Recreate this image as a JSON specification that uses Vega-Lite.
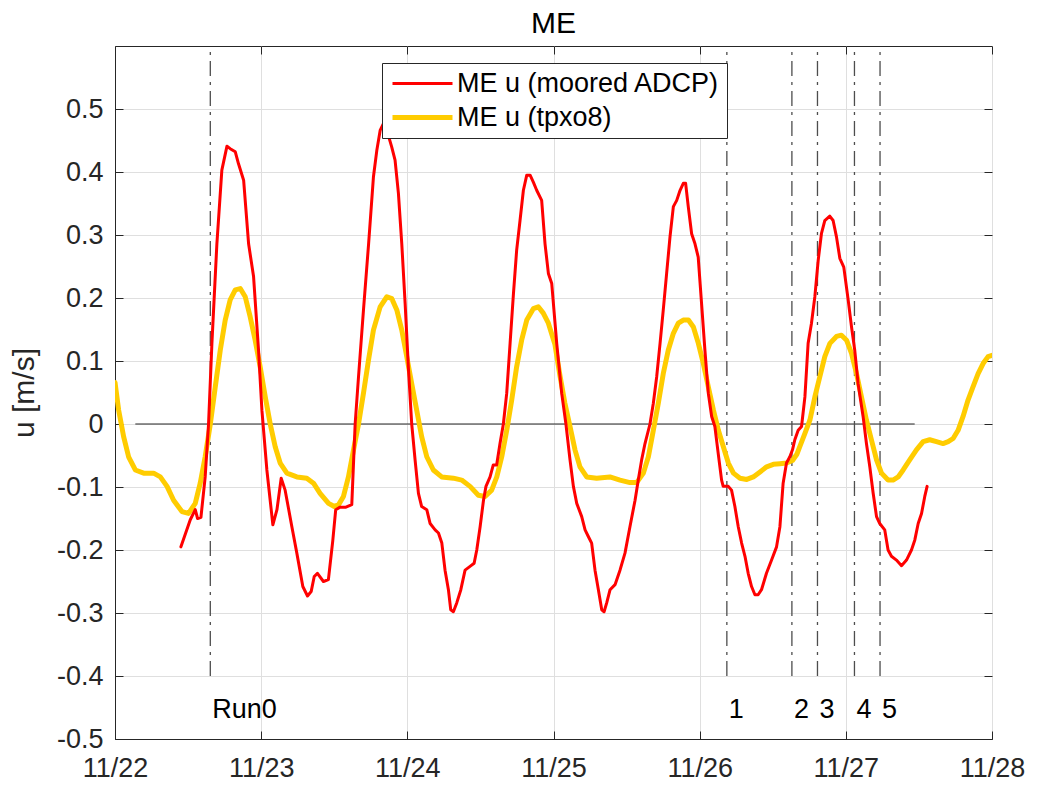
{
  "$schema": "https://vega.github.io/schema/vega-lite/v6.json",
  "width": 877,
  "height": 693,
  "autosize": {"type": "none"},
  "padding": {"left": 115, "top": 46, "right": 45, "bottom": 48},
  "background": "white",
  "title": {"text": "ME", "fontSize": 30, "font": "Liberation Sans", "fontWeight": "normal", "color": "#000000", "anchor": "middle", "baseline": "alphabetic", "offset": 13, "dy": 31},
  "config": {
    "view": {"stroke": "#262626", "strokeWidth": 1},
    "font": "Liberation Sans",
    "axis": {
      "domainColor": "#262626",
      "tickColor": "#262626",
      "labelColor": "#262626",
      "labelFont": "Liberation Sans",
      "labelFontSize": 27,
      "gridColor": "#dfdfdf",
      "gridWidth": 1,
      "tickSize": -8,
      "titleFont": "Liberation Sans",
      "titleFontSize": 30,
      "titleColor": "#262626",
      "titleFontWeight": "normal"
    },
    "legend": {
      "orient": "none",
      "legendX": 267,
      "legendY": 17,
      "strokeColor": "#262626",
      "fillColor": "white",
      "padding": 7,
      "labelFontSize": 27,
      "labelFont": "Liberation Sans",
      "labelColor": "#000000",
      "symbolType": "M-1,0H5",
      "symbolSize": 400,
      "labelOffset": 41,
      "rowPadding": 6,
      "labelLimit": 500
    }
  },
  "datasets": {
    "series": [
      {"day": 22.000, "u": 0.066, "series": "ME u (tpxo8)"},
      {"day": 22.025, "u": 0.022, "series": "ME u (tpxo8)"},
      {"day": 22.059, "u": -0.020, "series": "ME u (tpxo8)"},
      {"day": 22.093, "u": -0.052, "series": "ME u (tpxo8)"},
      {"day": 22.139, "u": -0.073, "series": "ME u (tpxo8)"},
      {"day": 22.196, "u": -0.078, "series": "ME u (tpxo8)"},
      {"day": 22.264, "u": -0.078, "series": "ME u (tpxo8)"},
      {"day": 22.310, "u": -0.084, "series": "ME u (tpxo8)"},
      {"day": 22.356, "u": -0.099, "series": "ME u (tpxo8)"},
      {"day": 22.401, "u": -0.121, "series": "ME u (tpxo8)"},
      {"day": 22.458, "u": -0.139, "series": "ME u (tpxo8)"},
      {"day": 22.503, "u": -0.142, "series": "ME u (tpxo8)"},
      {"day": 22.549, "u": -0.126, "series": "ME u (tpxo8)"},
      {"day": 22.583, "u": -0.094, "series": "ME u (tpxo8)"},
      {"day": 22.617, "u": -0.052, "series": "ME u (tpxo8)"},
      {"day": 22.652, "u": 0.000, "series": "ME u (tpxo8)"},
      {"day": 22.686, "u": 0.059, "series": "ME u (tpxo8)"},
      {"day": 22.720, "u": 0.117, "series": "ME u (tpxo8)"},
      {"day": 22.754, "u": 0.165, "series": "ME u (tpxo8)"},
      {"day": 22.788, "u": 0.197, "series": "ME u (tpxo8)"},
      {"day": 22.823, "u": 0.213, "series": "ME u (tpxo8)"},
      {"day": 22.857, "u": 0.215, "series": "ME u (tpxo8)"},
      {"day": 22.891, "u": 0.202, "series": "ME u (tpxo8)"},
      {"day": 22.925, "u": 0.170, "series": "ME u (tpxo8)"},
      {"day": 22.959, "u": 0.133, "series": "ME u (tpxo8)"},
      {"day": 22.993, "u": 0.091, "series": "ME u (tpxo8)"},
      {"day": 23.028, "u": 0.043, "series": "ME u (tpxo8)"},
      {"day": 23.062, "u": 0.000, "series": "ME u (tpxo8)"},
      {"day": 23.096, "u": -0.036, "series": "ME u (tpxo8)"},
      {"day": 23.130, "u": -0.062, "series": "ME u (tpxo8)"},
      {"day": 23.176, "u": -0.078, "series": "ME u (tpxo8)"},
      {"day": 23.244, "u": -0.084, "series": "ME u (tpxo8)"},
      {"day": 23.312, "u": -0.086, "series": "ME u (tpxo8)"},
      {"day": 23.358, "u": -0.094, "series": "ME u (tpxo8)"},
      {"day": 23.403, "u": -0.110, "series": "ME u (tpxo8)"},
      {"day": 23.461, "u": -0.126, "series": "ME u (tpxo8)"},
      {"day": 23.500, "u": -0.131, "series": "ME u (tpxo8)"},
      {"day": 23.530, "u": -0.128, "series": "ME u (tpxo8)"},
      {"day": 23.563, "u": -0.115, "series": "ME u (tpxo8)"},
      {"day": 23.597, "u": -0.084, "series": "ME u (tpxo8)"},
      {"day": 23.632, "u": -0.041, "series": "ME u (tpxo8)"},
      {"day": 23.666, "u": 0.000, "series": "ME u (tpxo8)"},
      {"day": 23.700, "u": 0.049, "series": "ME u (tpxo8)"},
      {"day": 23.734, "u": 0.101, "series": "ME u (tpxo8)"},
      {"day": 23.768, "u": 0.149, "series": "ME u (tpxo8)"},
      {"day": 23.814, "u": 0.186, "series": "ME u (tpxo8)"},
      {"day": 23.860, "u": 0.202, "series": "ME u (tpxo8)"},
      {"day": 23.894, "u": 0.199, "series": "ME u (tpxo8)"},
      {"day": 23.928, "u": 0.181, "series": "ME u (tpxo8)"},
      {"day": 23.962, "u": 0.149, "series": "ME u (tpxo8)"},
      {"day": 23.996, "u": 0.107, "series": "ME u (tpxo8)"},
      {"day": 24.030, "u": 0.064, "series": "ME u (tpxo8)"},
      {"day": 24.064, "u": 0.022, "series": "ME u (tpxo8)"},
      {"day": 24.098, "u": -0.020, "series": "ME u (tpxo8)"},
      {"day": 24.133, "u": -0.052, "series": "ME u (tpxo8)"},
      {"day": 24.178, "u": -0.073, "series": "ME u (tpxo8)"},
      {"day": 24.235, "u": -0.084, "series": "ME u (tpxo8)"},
      {"day": 24.315, "u": -0.086, "series": "ME u (tpxo8)"},
      {"day": 24.372, "u": -0.089, "series": "ME u (tpxo8)"},
      {"day": 24.429, "u": -0.099, "series": "ME u (tpxo8)"},
      {"day": 24.486, "u": -0.113, "series": "ME u (tpxo8)"},
      {"day": 24.532, "u": -0.115, "series": "ME u (tpxo8)"},
      {"day": 24.577, "u": -0.105, "series": "ME u (tpxo8)"},
      {"day": 24.612, "u": -0.084, "series": "ME u (tpxo8)"},
      {"day": 24.646, "u": -0.052, "series": "ME u (tpxo8)"},
      {"day": 24.680, "u": -0.010, "series": "ME u (tpxo8)"},
      {"day": 24.714, "u": 0.038, "series": "ME u (tpxo8)"},
      {"day": 24.748, "u": 0.091, "series": "ME u (tpxo8)"},
      {"day": 24.782, "u": 0.133, "series": "ME u (tpxo8)"},
      {"day": 24.817, "u": 0.165, "series": "ME u (tpxo8)"},
      {"day": 24.862, "u": 0.183, "series": "ME u (tpxo8)"},
      {"day": 24.896, "u": 0.186, "series": "ME u (tpxo8)"},
      {"day": 24.930, "u": 0.176, "series": "ME u (tpxo8)"},
      {"day": 24.965, "u": 0.160, "series": "ME u (tpxo8)"},
      {"day": 25.010, "u": 0.126, "series": "ME u (tpxo8)"},
      {"day": 25.044, "u": 0.077, "series": "ME u (tpxo8)"},
      {"day": 25.078, "u": 0.033, "series": "ME u (tpxo8)"},
      {"day": 25.113, "u": -0.004, "series": "ME u (tpxo8)"},
      {"day": 25.147, "u": -0.041, "series": "ME u (tpxo8)"},
      {"day": 25.181, "u": -0.068, "series": "ME u (tpxo8)"},
      {"day": 25.227, "u": -0.084, "series": "ME u (tpxo8)"},
      {"day": 25.295, "u": -0.086, "series": "ME u (tpxo8)"},
      {"day": 25.386, "u": -0.084, "series": "ME u (tpxo8)"},
      {"day": 25.455, "u": -0.089, "series": "ME u (tpxo8)"},
      {"day": 25.523, "u": -0.093, "series": "ME u (tpxo8)"},
      {"day": 25.569, "u": -0.093, "series": "ME u (tpxo8)"},
      {"day": 25.615, "u": -0.078, "series": "ME u (tpxo8)"},
      {"day": 25.649, "u": -0.052, "series": "ME u (tpxo8)"},
      {"day": 25.683, "u": -0.010, "series": "ME u (tpxo8)"},
      {"day": 25.717, "u": 0.033, "series": "ME u (tpxo8)"},
      {"day": 25.751, "u": 0.080, "series": "ME u (tpxo8)"},
      {"day": 25.785, "u": 0.117, "series": "ME u (tpxo8)"},
      {"day": 25.820, "u": 0.144, "series": "ME u (tpxo8)"},
      {"day": 25.854, "u": 0.160, "series": "ME u (tpxo8)"},
      {"day": 25.888, "u": 0.165, "series": "ME u (tpxo8)"},
      {"day": 25.923, "u": 0.165, "series": "ME u (tpxo8)"},
      {"day": 25.957, "u": 0.154, "series": "ME u (tpxo8)"},
      {"day": 25.991, "u": 0.128, "series": "ME u (tpxo8)"},
      {"day": 26.025, "u": 0.096, "series": "ME u (tpxo8)"},
      {"day": 26.059, "u": 0.059, "series": "ME u (tpxo8)"},
      {"day": 26.094, "u": 0.022, "series": "ME u (tpxo8)"},
      {"day": 26.128, "u": -0.010, "series": "ME u (tpxo8)"},
      {"day": 26.162, "u": -0.036, "series": "ME u (tpxo8)"},
      {"day": 26.196, "u": -0.062, "series": "ME u (tpxo8)"},
      {"day": 26.231, "u": -0.078, "series": "ME u (tpxo8)"},
      {"day": 26.276, "u": -0.086, "series": "ME u (tpxo8)"},
      {"day": 26.322, "u": -0.088, "series": "ME u (tpxo8)"},
      {"day": 26.367, "u": -0.084, "series": "ME u (tpxo8)"},
      {"day": 26.413, "u": -0.076, "series": "ME u (tpxo8)"},
      {"day": 26.458, "u": -0.068, "series": "ME u (tpxo8)"},
      {"day": 26.504, "u": -0.064, "series": "ME u (tpxo8)"},
      {"day": 26.549, "u": -0.063, "series": "ME u (tpxo8)"},
      {"day": 26.594, "u": -0.062, "series": "ME u (tpxo8)"},
      {"day": 26.635, "u": -0.058, "series": "ME u (tpxo8)"},
      {"day": 26.665, "u": -0.048, "series": "ME u (tpxo8)"},
      {"day": 26.685, "u": -0.036, "series": "ME u (tpxo8)"},
      {"day": 26.720, "u": -0.015, "series": "ME u (tpxo8)"},
      {"day": 26.754, "u": 0.006, "series": "ME u (tpxo8)"},
      {"day": 26.788, "u": 0.043, "series": "ME u (tpxo8)"},
      {"day": 26.822, "u": 0.075, "series": "ME u (tpxo8)"},
      {"day": 26.856, "u": 0.107, "series": "ME u (tpxo8)"},
      {"day": 26.891, "u": 0.128, "series": "ME u (tpxo8)"},
      {"day": 26.936, "u": 0.139, "series": "ME u (tpxo8)"},
      {"day": 26.970, "u": 0.141, "series": "ME u (tpxo8)"},
      {"day": 27.005, "u": 0.133, "series": "ME u (tpxo8)"},
      {"day": 27.039, "u": 0.112, "series": "ME u (tpxo8)"},
      {"day": 27.073, "u": 0.080, "series": "ME u (tpxo8)"},
      {"day": 27.107, "u": 0.043, "series": "ME u (tpxo8)"},
      {"day": 27.141, "u": 0.006, "series": "ME u (tpxo8)"},
      {"day": 27.175, "u": -0.025, "series": "ME u (tpxo8)"},
      {"day": 27.210, "u": -0.057, "series": "ME u (tpxo8)"},
      {"day": 27.244, "u": -0.078, "series": "ME u (tpxo8)"},
      {"day": 27.289, "u": -0.089, "series": "ME u (tpxo8)"},
      {"day": 27.323, "u": -0.089, "series": "ME u (tpxo8)"},
      {"day": 27.358, "u": -0.084, "series": "ME u (tpxo8)"},
      {"day": 27.392, "u": -0.073, "series": "ME u (tpxo8)"},
      {"day": 27.437, "u": -0.057, "series": "ME u (tpxo8)"},
      {"day": 27.483, "u": -0.041, "series": "ME u (tpxo8)"},
      {"day": 27.529, "u": -0.028, "series": "ME u (tpxo8)"},
      {"day": 27.574, "u": -0.025, "series": "ME u (tpxo8)"},
      {"day": 27.620, "u": -0.028, "series": "ME u (tpxo8)"},
      {"day": 27.665, "u": -0.031, "series": "ME u (tpxo8)"},
      {"day": 27.700, "u": -0.028, "series": "ME u (tpxo8)"},
      {"day": 27.734, "u": -0.023, "series": "ME u (tpxo8)"},
      {"day": 27.768, "u": -0.010, "series": "ME u (tpxo8)"},
      {"day": 27.802, "u": 0.012, "series": "ME u (tpxo8)"},
      {"day": 27.836, "u": 0.038, "series": "ME u (tpxo8)"},
      {"day": 27.870, "u": 0.059, "series": "ME u (tpxo8)"},
      {"day": 27.905, "u": 0.080, "series": "ME u (tpxo8)"},
      {"day": 27.939, "u": 0.096, "series": "ME u (tpxo8)"},
      {"day": 27.973, "u": 0.107, "series": "ME u (tpxo8)"},
      {"day": 28.000, "u": 0.109, "series": "ME u (tpxo8)"},
      {"day": 22.451, "u": -0.195, "series": "ME u (moored ADCP)"},
      {"day": 22.515, "u": -0.152, "series": "ME u (moored ADCP)"},
      {"day": 22.549, "u": -0.136, "series": "ME u (moored ADCP)"},
      {"day": 22.565, "u": -0.150, "series": "ME u (moored ADCP)"},
      {"day": 22.588, "u": -0.148, "series": "ME u (moored ADCP)"},
      {"day": 22.617, "u": -0.084, "series": "ME u (moored ADCP)"},
      {"day": 22.640, "u": 0.000, "series": "ME u (moored ADCP)"},
      {"day": 22.663, "u": 0.128, "series": "ME u (moored ADCP)"},
      {"day": 22.697, "u": 0.286, "series": "ME u (moored ADCP)"},
      {"day": 22.731, "u": 0.403, "series": "ME u (moored ADCP)"},
      {"day": 22.766, "u": 0.441, "series": "ME u (moored ADCP)"},
      {"day": 22.788, "u": 0.437, "series": "ME u (moored ADCP)"},
      {"day": 22.823, "u": 0.432, "series": "ME u (moored ADCP)"},
      {"day": 22.845, "u": 0.413, "series": "ME u (moored ADCP)"},
      {"day": 22.880, "u": 0.387, "series": "ME u (moored ADCP)"},
      {"day": 22.914, "u": 0.286, "series": "ME u (moored ADCP)"},
      {"day": 22.948, "u": 0.234, "series": "ME u (moored ADCP)"},
      {"day": 22.982, "u": 0.117, "series": "ME u (moored ADCP)"},
      {"day": 23.005, "u": 0.022, "series": "ME u (moored ADCP)"},
      {"day": 23.039, "u": -0.073, "series": "ME u (moored ADCP)"},
      {"day": 23.080, "u": -0.160, "series": "ME u (moored ADCP)"},
      {"day": 23.108, "u": -0.136, "series": "ME u (moored ADCP)"},
      {"day": 23.137, "u": -0.086, "series": "ME u (moored ADCP)"},
      {"day": 23.164, "u": -0.105, "series": "ME u (moored ADCP)"},
      {"day": 23.210, "u": -0.163, "series": "ME u (moored ADCP)"},
      {"day": 23.244, "u": -0.205, "series": "ME u (moored ADCP)"},
      {"day": 23.285, "u": -0.258, "series": "ME u (moored ADCP)"},
      {"day": 23.317, "u": -0.273, "series": "ME u (moored ADCP)"},
      {"day": 23.342, "u": -0.266, "series": "ME u (moored ADCP)"},
      {"day": 23.363, "u": -0.242, "series": "ME u (moored ADCP)"},
      {"day": 23.385, "u": -0.237, "series": "ME u (moored ADCP)"},
      {"day": 23.426, "u": -0.250, "series": "ME u (moored ADCP)"},
      {"day": 23.460, "u": -0.247, "series": "ME u (moored ADCP)"},
      {"day": 23.490, "u": -0.185, "series": "ME u (moored ADCP)"},
      {"day": 23.510, "u": -0.136, "series": "ME u (moored ADCP)"},
      {"day": 23.540, "u": -0.132, "series": "ME u (moored ADCP)"},
      {"day": 23.580, "u": -0.132, "series": "ME u (moored ADCP)"},
      {"day": 23.620, "u": -0.128, "series": "ME u (moored ADCP)"},
      {"day": 23.643, "u": 0.000, "series": "ME u (moored ADCP)"},
      {"day": 23.666, "u": 0.075, "series": "ME u (moored ADCP)"},
      {"day": 23.700, "u": 0.181, "series": "ME u (moored ADCP)"},
      {"day": 23.735, "u": 0.286, "series": "ME u (moored ADCP)"},
      {"day": 23.768, "u": 0.392, "series": "ME u (moored ADCP)"},
      {"day": 23.791, "u": 0.434, "series": "ME u (moored ADCP)"},
      {"day": 23.814, "u": 0.466, "series": "ME u (moored ADCP)"},
      {"day": 23.837, "u": 0.477, "series": "ME u (moored ADCP)"},
      {"day": 23.860, "u": 0.466, "series": "ME u (moored ADCP)"},
      {"day": 23.893, "u": 0.440, "series": "ME u (moored ADCP)"},
      {"day": 23.916, "u": 0.419, "series": "ME u (moored ADCP)"},
      {"day": 23.939, "u": 0.366, "series": "ME u (moored ADCP)"},
      {"day": 23.962, "u": 0.286, "series": "ME u (moored ADCP)"},
      {"day": 23.985, "u": 0.191, "series": "ME u (moored ADCP)"},
      {"day": 24.008, "u": 0.086, "series": "ME u (moored ADCP)"},
      {"day": 24.030, "u": 0.000, "series": "ME u (moored ADCP)"},
      {"day": 24.053, "u": -0.057, "series": "ME u (moored ADCP)"},
      {"day": 24.076, "u": -0.110, "series": "ME u (moored ADCP)"},
      {"day": 24.098, "u": -0.131, "series": "ME u (moored ADCP)"},
      {"day": 24.133, "u": -0.136, "series": "ME u (moored ADCP)"},
      {"day": 24.156, "u": -0.158, "series": "ME u (moored ADCP)"},
      {"day": 24.190, "u": -0.168, "series": "ME u (moored ADCP)"},
      {"day": 24.213, "u": -0.173, "series": "ME u (moored ADCP)"},
      {"day": 24.236, "u": -0.189, "series": "ME u (moored ADCP)"},
      {"day": 24.258, "u": -0.232, "series": "ME u (moored ADCP)"},
      {"day": 24.281, "u": -0.263, "series": "ME u (moored ADCP)"},
      {"day": 24.297, "u": -0.295, "series": "ME u (moored ADCP)"},
      {"day": 24.315, "u": -0.298, "series": "ME u (moored ADCP)"},
      {"day": 24.338, "u": -0.284, "series": "ME u (moored ADCP)"},
      {"day": 24.366, "u": -0.263, "series": "ME u (moored ADCP)"},
      {"day": 24.395, "u": -0.232, "series": "ME u (moored ADCP)"},
      {"day": 24.429, "u": -0.226, "series": "ME u (moored ADCP)"},
      {"day": 24.457, "u": -0.221, "series": "ME u (moored ADCP)"},
      {"day": 24.475, "u": -0.200, "series": "ME u (moored ADCP)"},
      {"day": 24.498, "u": -0.163, "series": "ME u (moored ADCP)"},
      {"day": 24.521, "u": -0.121, "series": "ME u (moored ADCP)"},
      {"day": 24.538, "u": -0.099, "series": "ME u (moored ADCP)"},
      {"day": 24.566, "u": -0.084, "series": "ME u (moored ADCP)"},
      {"day": 24.588, "u": -0.065, "series": "ME u (moored ADCP)"},
      {"day": 24.611, "u": -0.065, "series": "ME u (moored ADCP)"},
      {"day": 24.634, "u": -0.031, "series": "ME u (moored ADCP)"},
      {"day": 24.657, "u": 0.000, "series": "ME u (moored ADCP)"},
      {"day": 24.680, "u": 0.049, "series": "ME u (moored ADCP)"},
      {"day": 24.703, "u": 0.128, "series": "ME u (moored ADCP)"},
      {"day": 24.726, "u": 0.207, "series": "ME u (moored ADCP)"},
      {"day": 24.748, "u": 0.276, "series": "ME u (moored ADCP)"},
      {"day": 24.771, "u": 0.323, "series": "ME u (moored ADCP)"},
      {"day": 24.794, "u": 0.371, "series": "ME u (moored ADCP)"},
      {"day": 24.817, "u": 0.395, "series": "ME u (moored ADCP)"},
      {"day": 24.840, "u": 0.395, "series": "ME u (moored ADCP)"},
      {"day": 24.862, "u": 0.384, "series": "ME u (moored ADCP)"},
      {"day": 24.885, "u": 0.371, "series": "ME u (moored ADCP)"},
      {"day": 24.919, "u": 0.355, "series": "ME u (moored ADCP)"},
      {"day": 24.942, "u": 0.286, "series": "ME u (moored ADCP)"},
      {"day": 24.965, "u": 0.239, "series": "ME u (moored ADCP)"},
      {"day": 24.988, "u": 0.223, "series": "ME u (moored ADCP)"},
      {"day": 25.022, "u": 0.128, "series": "ME u (moored ADCP)"},
      {"day": 25.056, "u": 0.049, "series": "ME u (moored ADCP)"},
      {"day": 25.085, "u": 0.000, "series": "ME u (moored ADCP)"},
      {"day": 25.113, "u": -0.057, "series": "ME u (moored ADCP)"},
      {"day": 25.136, "u": -0.099, "series": "ME u (moored ADCP)"},
      {"day": 25.159, "u": -0.126, "series": "ME u (moored ADCP)"},
      {"day": 25.193, "u": -0.147, "series": "ME u (moored ADCP)"},
      {"day": 25.216, "u": -0.168, "series": "ME u (moored ADCP)"},
      {"day": 25.239, "u": -0.179, "series": "ME u (moored ADCP)"},
      {"day": 25.261, "u": -0.189, "series": "ME u (moored ADCP)"},
      {"day": 25.284, "u": -0.232, "series": "ME u (moored ADCP)"},
      {"day": 25.307, "u": -0.263, "series": "ME u (moored ADCP)"},
      {"day": 25.330, "u": -0.295, "series": "ME u (moored ADCP)"},
      {"day": 25.346, "u": -0.298, "series": "ME u (moored ADCP)"},
      {"day": 25.364, "u": -0.284, "series": "ME u (moored ADCP)"},
      {"day": 25.387, "u": -0.263, "series": "ME u (moored ADCP)"},
      {"day": 25.421, "u": -0.255, "series": "ME u (moored ADCP)"},
      {"day": 25.455, "u": -0.232, "series": "ME u (moored ADCP)"},
      {"day": 25.489, "u": -0.205, "series": "ME u (moored ADCP)"},
      {"day": 25.523, "u": -0.163, "series": "ME u (moored ADCP)"},
      {"day": 25.558, "u": -0.121, "series": "ME u (moored ADCP)"},
      {"day": 25.580, "u": -0.089, "series": "ME u (moored ADCP)"},
      {"day": 25.603, "u": -0.057, "series": "ME u (moored ADCP)"},
      {"day": 25.626, "u": -0.031, "series": "ME u (moored ADCP)"},
      {"day": 25.660, "u": 0.000, "series": "ME u (moored ADCP)"},
      {"day": 25.683, "u": 0.033, "series": "ME u (moored ADCP)"},
      {"day": 25.706, "u": 0.075, "series": "ME u (moored ADCP)"},
      {"day": 25.729, "u": 0.128, "series": "ME u (moored ADCP)"},
      {"day": 25.751, "u": 0.181, "series": "ME u (moored ADCP)"},
      {"day": 25.774, "u": 0.239, "series": "ME u (moored ADCP)"},
      {"day": 25.797, "u": 0.297, "series": "ME u (moored ADCP)"},
      {"day": 25.820, "u": 0.345, "series": "ME u (moored ADCP)"},
      {"day": 25.843, "u": 0.355, "series": "ME u (moored ADCP)"},
      {"day": 25.866, "u": 0.371, "series": "ME u (moored ADCP)"},
      {"day": 25.888, "u": 0.382, "series": "ME u (moored ADCP)"},
      {"day": 25.904, "u": 0.382, "series": "ME u (moored ADCP)"},
      {"day": 25.922, "u": 0.345, "series": "ME u (moored ADCP)"},
      {"day": 25.945, "u": 0.302, "series": "ME u (moored ADCP)"},
      {"day": 25.968, "u": 0.286, "series": "ME u (moored ADCP)"},
      {"day": 25.990, "u": 0.265, "series": "ME u (moored ADCP)"},
      {"day": 26.013, "u": 0.191, "series": "ME u (moored ADCP)"},
      {"day": 26.036, "u": 0.117, "series": "ME u (moored ADCP)"},
      {"day": 26.059, "u": 0.049, "series": "ME u (moored ADCP)"},
      {"day": 26.082, "u": 0.012, "series": "ME u (moored ADCP)"},
      {"day": 26.104, "u": -0.004, "series": "ME u (moored ADCP)"},
      {"day": 26.127, "u": -0.047, "series": "ME u (moored ADCP)"},
      {"day": 26.150, "u": -0.089, "series": "ME u (moored ADCP)"},
      {"day": 26.161, "u": -0.099, "series": "ME u (moored ADCP)"},
      {"day": 26.196, "u": -0.099, "series": "ME u (moored ADCP)"},
      {"day": 26.218, "u": -0.105, "series": "ME u (moored ADCP)"},
      {"day": 26.241, "u": -0.131, "series": "ME u (moored ADCP)"},
      {"day": 26.264, "u": -0.163, "series": "ME u (moored ADCP)"},
      {"day": 26.287, "u": -0.189, "series": "ME u (moored ADCP)"},
      {"day": 26.310, "u": -0.210, "series": "ME u (moored ADCP)"},
      {"day": 26.332, "u": -0.237, "series": "ME u (moored ADCP)"},
      {"day": 26.355, "u": -0.258, "series": "ME u (moored ADCP)"},
      {"day": 26.378, "u": -0.271, "series": "ME u (moored ADCP)"},
      {"day": 26.400, "u": -0.271, "series": "ME u (moored ADCP)"},
      {"day": 26.423, "u": -0.263, "series": "ME u (moored ADCP)"},
      {"day": 26.457, "u": -0.237, "series": "ME u (moored ADCP)"},
      {"day": 26.492, "u": -0.216, "series": "ME u (moored ADCP)"},
      {"day": 26.526, "u": -0.195, "series": "ME u (moored ADCP)"},
      {"day": 26.549, "u": -0.163, "series": "ME u (moored ADCP)"},
      {"day": 26.571, "u": -0.094, "series": "ME u (moored ADCP)"},
      {"day": 26.594, "u": -0.062, "series": "ME u (moored ADCP)"},
      {"day": 26.617, "u": -0.052, "series": "ME u (moored ADCP)"},
      {"day": 26.635, "u": -0.041, "series": "ME u (moored ADCP)"},
      {"day": 26.651, "u": -0.025, "series": "ME u (moored ADCP)"},
      {"day": 26.674, "u": -0.010, "series": "ME u (moored ADCP)"},
      {"day": 26.697, "u": -0.004, "series": "ME u (moored ADCP)"},
      {"day": 26.720, "u": 0.043, "series": "ME u (moored ADCP)"},
      {"day": 26.742, "u": 0.128, "series": "ME u (moored ADCP)"},
      {"day": 26.765, "u": 0.160, "series": "ME u (moored ADCP)"},
      {"day": 26.788, "u": 0.202, "series": "ME u (moored ADCP)"},
      {"day": 26.811, "u": 0.260, "series": "ME u (moored ADCP)"},
      {"day": 26.833, "u": 0.302, "series": "ME u (moored ADCP)"},
      {"day": 26.856, "u": 0.323, "series": "ME u (moored ADCP)"},
      {"day": 26.890, "u": 0.330, "series": "ME u (moored ADCP)"},
      {"day": 26.913, "u": 0.323, "series": "ME u (moored ADCP)"},
      {"day": 26.936, "u": 0.297, "series": "ME u (moored ADCP)"},
      {"day": 26.959, "u": 0.263, "series": "ME u (moored ADCP)"},
      {"day": 26.986, "u": 0.249, "series": "ME u (moored ADCP)"},
      {"day": 27.016, "u": 0.197, "series": "ME u (moored ADCP)"},
      {"day": 27.039, "u": 0.154, "series": "ME u (moored ADCP)"},
      {"day": 27.061, "u": 0.117, "series": "ME u (moored ADCP)"},
      {"day": 27.084, "u": 0.064, "series": "ME u (moored ADCP)"},
      {"day": 27.118, "u": 0.012, "series": "ME u (moored ADCP)"},
      {"day": 27.141, "u": -0.031, "series": "ME u (moored ADCP)"},
      {"day": 27.164, "u": -0.068, "series": "ME u (moored ADCP)"},
      {"day": 27.187, "u": -0.110, "series": "ME u (moored ADCP)"},
      {"day": 27.210, "u": -0.147, "series": "ME u (moored ADCP)"},
      {"day": 27.232, "u": -0.158, "series": "ME u (moored ADCP)"},
      {"day": 27.266, "u": -0.168, "series": "ME u (moored ADCP)"},
      {"day": 27.289, "u": -0.200, "series": "ME u (moored ADCP)"},
      {"day": 27.312, "u": -0.210, "series": "ME u (moored ADCP)"},
      {"day": 27.346, "u": -0.216, "series": "ME u (moored ADCP)"},
      {"day": 27.381, "u": -0.225, "series": "ME u (moored ADCP)"},
      {"day": 27.415, "u": -0.216, "series": "ME u (moored ADCP)"},
      {"day": 27.449, "u": -0.200, "series": "ME u (moored ADCP)"},
      {"day": 27.472, "u": -0.184, "series": "ME u (moored ADCP)"},
      {"day": 27.495, "u": -0.158, "series": "ME u (moored ADCP)"},
      {"day": 27.518, "u": -0.142, "series": "ME u (moored ADCP)"},
      {"day": 27.540, "u": -0.115, "series": "ME u (moored ADCP)"},
      {"day": 27.556, "u": -0.099, "series": "ME u (moored ADCP)"}
    ],
    "runs": [
      {"day": 22.652, "label": "Run0"},
      {"day": 26.186, "label": "1"},
      {"day": 26.631, "label": "2"},
      {"day": 26.806, "label": "3"},
      {"day": 27.059, "label": "4"},
      {"day": 27.234, "label": "5"}
    ],
    "zero": [
      {"start": 22.139, "end": 27.471, "u": 0}
    ]
  },
  "encoding": {
    "x": {"type": "quantitative", "scale": {"domain": [22, 28], "nice": false, "zero": false}},
    "y": {"type": "quantitative", "scale": {"domain": [-0.5, 0.6], "nice": false, "zero": false}}
  },
  "layer": [
    {
      "data": {"name": "zero"},
      "mark": {"type": "rule", "color": "#262626", "strokeWidth": 1},
      "encoding": {
        "x": {"field": "start", "type": "quantitative", "axis": null},
        "x2": {"field": "end"},
        "y": {"field": "u", "type": "quantitative", "axis": null}
      }
    },
    {
      "data": {"name": "runs"},
      "mark": {"type": "rule", "color": "#4d4d4d", "strokeWidth": 1.3, "strokeDash": [15, 6, 3, 6]},
      "encoding": {
        "x": {"field": "day", "type": "quantitative", "axis": null},
        "y": {"datum": -0.4, "type": "quantitative", "axis": null},
        "y2": {"datum": 0.6}
      }
    },
    {
      "data": {"name": "series"},
      "mark": {"type": "line", "clip": true, "strokeCap": "round", "strokeJoin": "round"},
      "encoding": {
        "x": {
          "field": "day", "type": "quantitative",
          "axis": {"orient": "bottom", "values": [22, 23, 24, 25, 26, 27, 28], "labelExpr": "'11/' + datum.value", "grid": true, "title": null, "labelPadding": 24, "labelFlush": false, "labelOverlap": false}
        },
        "y": {
          "field": "u", "type": "quantitative",
          "axis": {"orient": "left", "values": [-0.5, -0.4, -0.3, -0.2, -0.1, 0, 0.1, 0.2, 0.3, 0.4, 0.5], "labelExpr": "datum.value == 0 ? '0' : (datum.value < 0 ? '-' : '') + format(abs(datum.value), '.1f')", "grid": true, "title": "u [m/s]", "titleX": -82, "titleY": 346.5, "titleAngle": -90, "titleAlign": "center", "titleBaseline": "alphabetic", "labelPadding": 20, "labelOverlap": false}
        },
        "color": {
          "field": "series", "type": "nominal",
          "scale": {"domain": ["ME u (moored ADCP)", "ME u (tpxo8)"], "range": ["#ff0000", "#ffcc00"]},
          "legend": {"title": null}
        },
        "strokeWidth": {
          "field": "series", "type": "nominal",
          "scale": {"type": "ordinal", "domain": ["ME u (moored ADCP)", "ME u (tpxo8)"], "range": [3, 5]},
          "legend": {"title": null}
        },
        "order": {"field": "day", "type": "quantitative"}
      }
    },
    {
      "data": {"name": "runs"},
      "mark": {"type": "text", "align": "left", "baseline": "alphabetic", "dx": 2, "fontSize": 27, "font": "Liberation Sans", "color": "#000000"},
      "encoding": {
        "x": {"field": "day", "type": "quantitative", "axis": {"orient": "top", "labels": false, "domain": false, "grid": false, "title": null, "values": [22, 23, 24, 25, 26, 27, 28]}},
        "y": {"datum": -0.466, "type": "quantitative", "axis": {"orient": "right", "labels": false, "domain": false, "grid": false, "title": null, "values": [-0.5, -0.4, -0.3, -0.2, -0.1, 0, 0.1, 0.2, 0.3, 0.4, 0.5]}},
        "text": {"field": "label"}
      }
    }
  ],
  "resolve": {"axis": {"x": "independent", "y": "independent"}}
}
